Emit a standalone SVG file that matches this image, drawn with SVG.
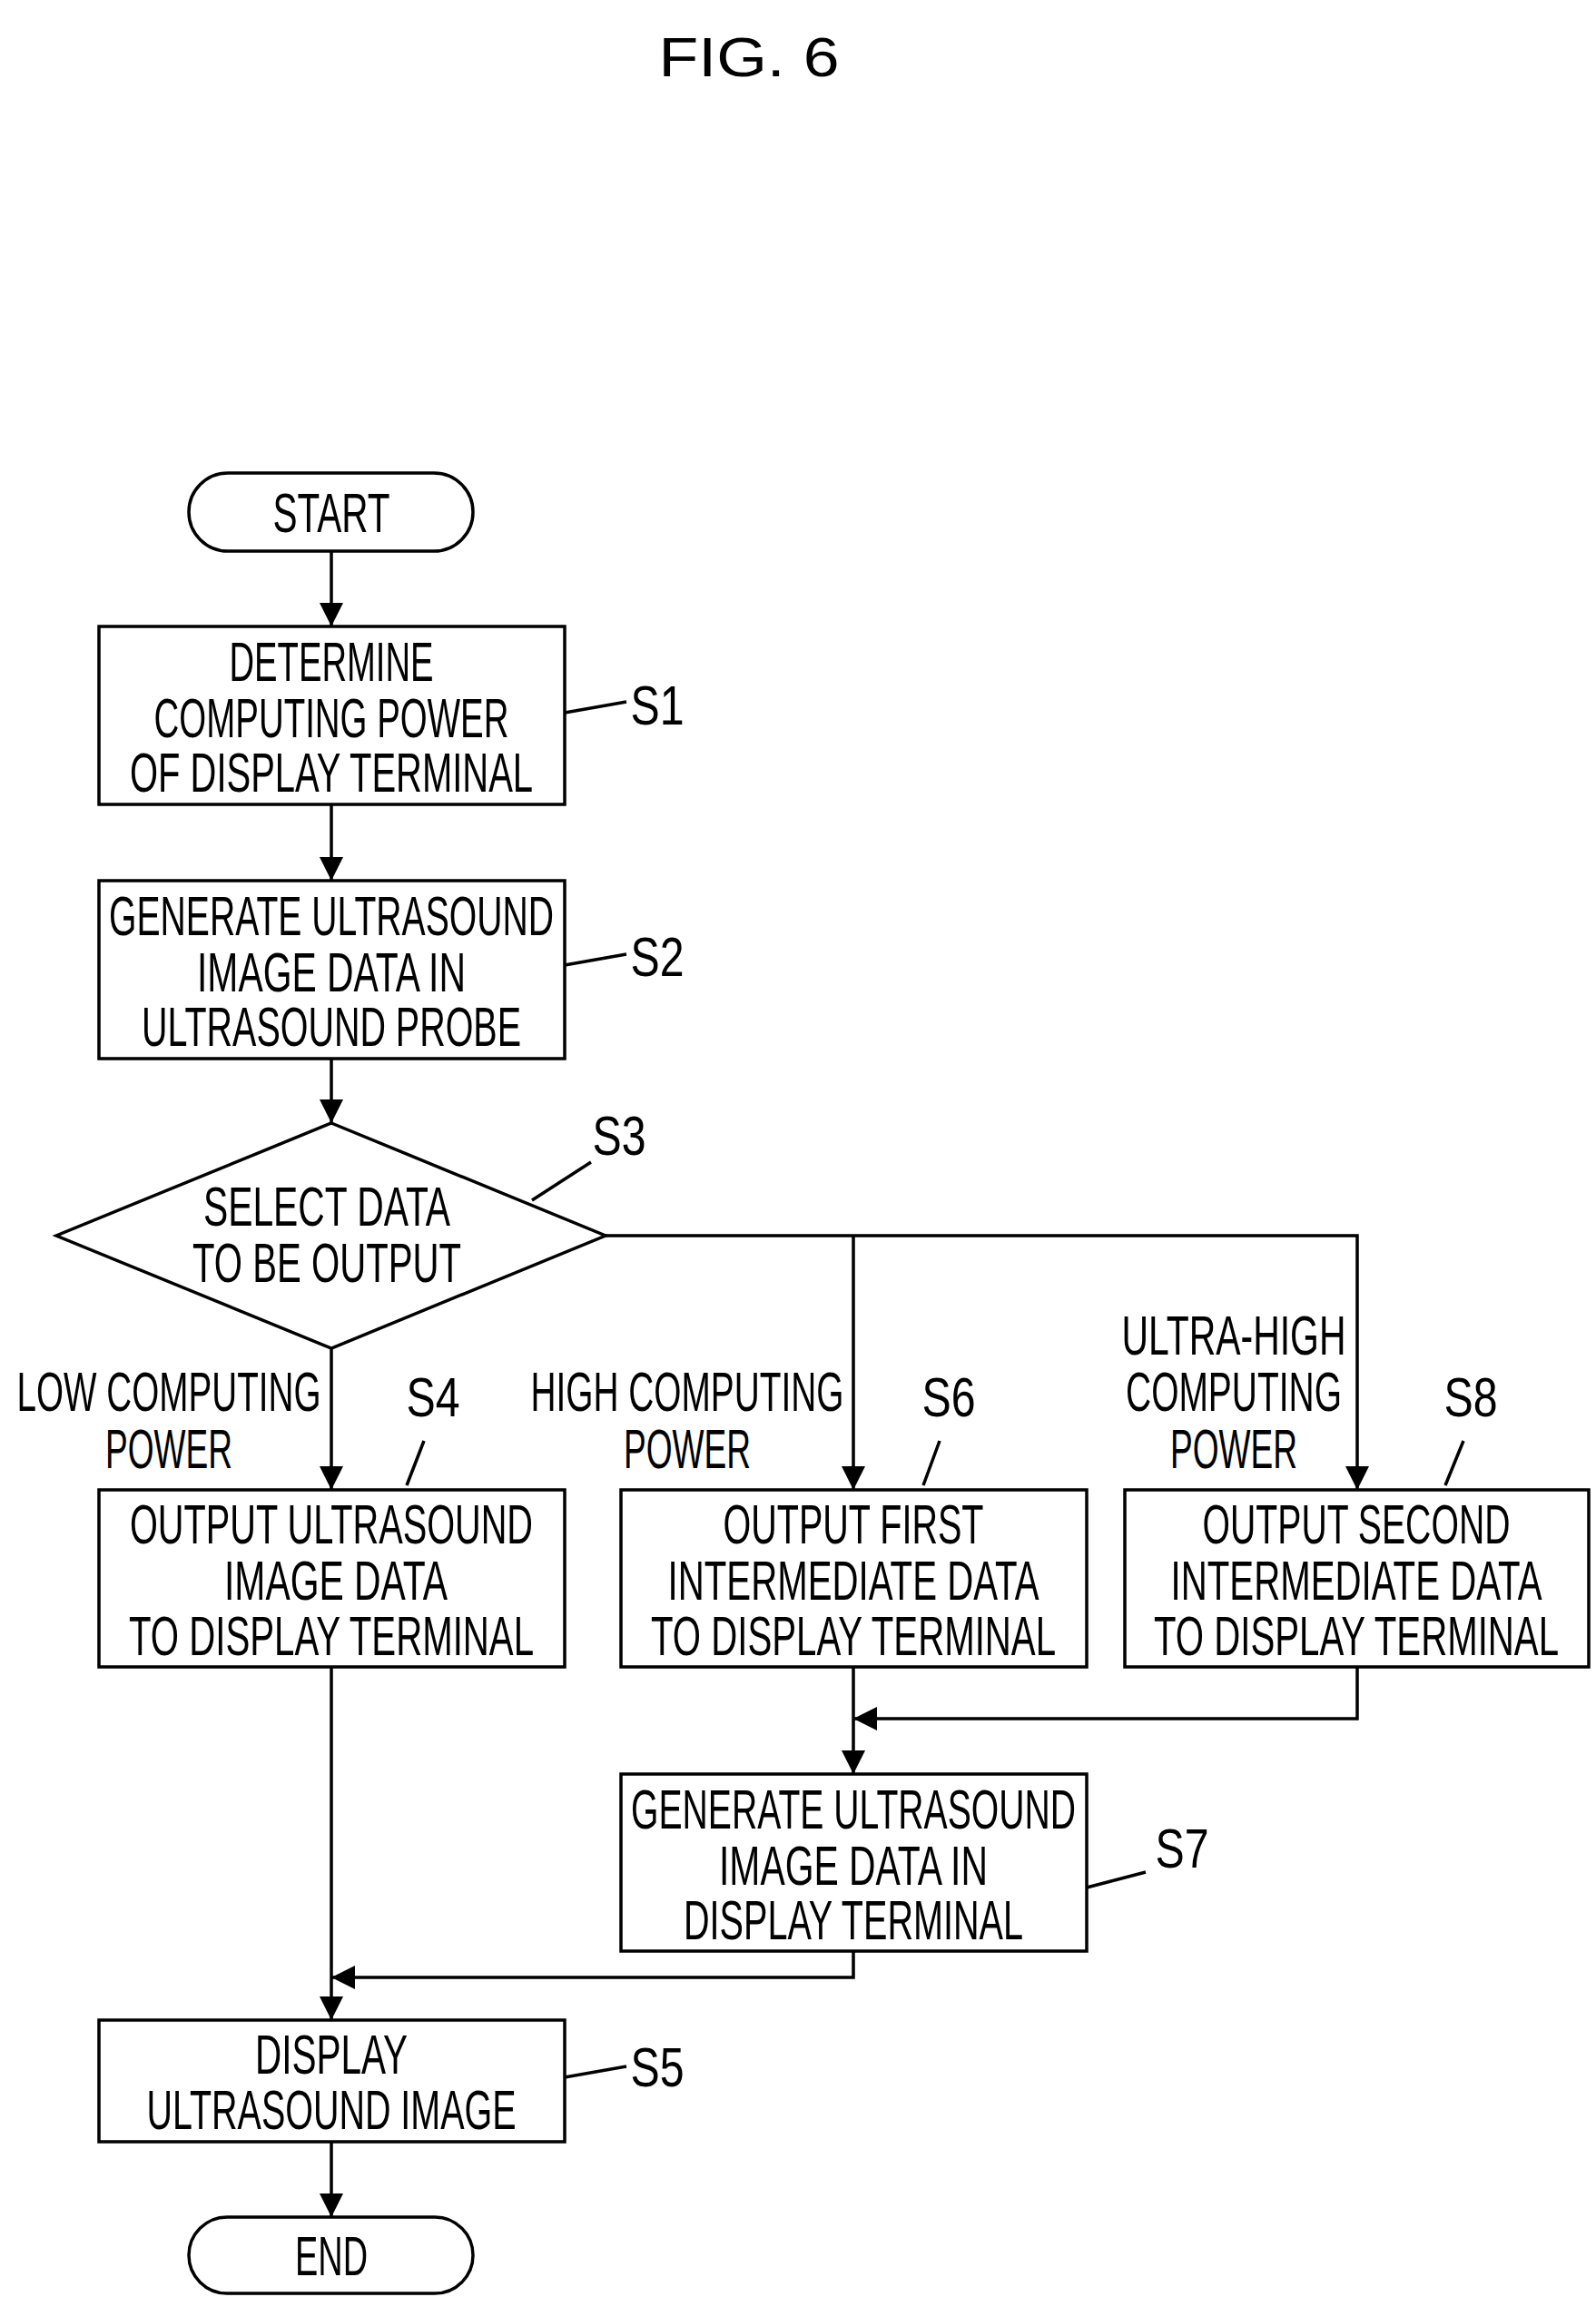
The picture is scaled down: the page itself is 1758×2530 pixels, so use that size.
<svg xmlns="http://www.w3.org/2000/svg" width="1758" height="2530" viewBox="0 0 1758 2530">
<style>
text{font-family:"Liberation Sans",Arial,sans-serif;font-size:62px;fill:#000;text-anchor:middle}
.b{fill:#fff;stroke:#000;stroke-width:3.5}
.c{fill:none;stroke:#000;stroke-width:3.5}
</style>
<defs>
<marker id="ah" viewBox="0 0 10 10" refX="10" refY="5" markerWidth="26" markerHeight="30" orient="auto" markerUnits="userSpaceOnUse"><path d="M0,0L10,5L0,10z"/></marker></defs>
<rect width="1758" height="2530" fill="#fff"/>
<text x="825" y="84" font-size="76" textLength="199" lengthAdjust="spacingAndGlyphs">FIG. 6</text>
<g id="connectors" class="c">
<path d="M365,607V690" marker-end="url(#ah)"/>
<path d="M365,886V970" marker-end="url(#ah)"/>
<path d="M365,1166V1237" marker-end="url(#ah)"/>
<path d="M365,1485V1641" marker-end="url(#ah)"/>
<path d="M667,1361H1495V1641" marker-end="url(#ah)"/>
<path d="M940,1361V1641" marker-end="url(#ah)"/>
<path d="M940,1836V1954" marker-end="url(#ah)"/>
<path d="M1495,1836V1893H940" marker-end="url(#ah)"/>
<path d="M365,1836V2225" marker-end="url(#ah)"/>
<path d="M940,2149V2178H365" marker-end="url(#ah)"/>
<path d="M365,2359V2442" marker-end="url(#ah)"/>
<path d="M622,785L690,773M622,1063L690,1051M586,1322L651,1280M448,1636L467,1587M1017,1636L1035,1587M1592,1636L1612,1587M1197,2079L1262,2062M622,2288L690,2276"/>
</g>
<g id="start"><rect class="b" x="208" y="521" width="313" height="86" rx="43"/><text x="365" y="586" textLength="129" lengthAdjust="spacingAndGlyphs">START</text></g>
<g id="s1"><rect class="b" x="109" y="690" width="513" height="196"/>
<text x="365" y="750" textLength="225" lengthAdjust="spacingAndGlyphs">DETERMINE</text>
<text x="365" y="812" textLength="391" lengthAdjust="spacingAndGlyphs">COMPUTING POWER</text>
<text x="365" y="872" textLength="444" lengthAdjust="spacingAndGlyphs">OF DISPLAY TERMINAL</text>
<text x="724" y="798" textLength="59" lengthAdjust="spacingAndGlyphs">S1</text></g>
<g id="s2"><rect class="b" x="109" y="970" width="513" height="196"/>
<text x="365" y="1030" textLength="490" lengthAdjust="spacingAndGlyphs">GENERATE ULTRASOUND</text>
<text x="365" y="1092" textLength="296" lengthAdjust="spacingAndGlyphs">IMAGE DATA IN</text>
<text x="365" y="1152" textLength="418" lengthAdjust="spacingAndGlyphs">ULTRASOUND PROBE</text>
<text x="724" y="1075" textLength="59" lengthAdjust="spacingAndGlyphs">S2</text></g>
<g id="s3"><path class="b" d="M365,1237L667,1361L365,1485L62,1361z"/>
<text x="360" y="1350" textLength="272" lengthAdjust="spacingAndGlyphs">SELECT DATA</text>
<text x="360" y="1412" textLength="296" lengthAdjust="spacingAndGlyphs">TO BE OUTPUT</text>
<text x="682" y="1272" textLength="59" lengthAdjust="spacingAndGlyphs">S3</text></g>
<g id="labels">
<text x="186" y="1554" textLength="335" lengthAdjust="spacingAndGlyphs">LOW COMPUTING</text>
<text x="186" y="1617" textLength="140" lengthAdjust="spacingAndGlyphs">POWER</text>
<text x="757" y="1554" textLength="345" lengthAdjust="spacingAndGlyphs">HIGH COMPUTING</text>
<text x="757" y="1617" textLength="140" lengthAdjust="spacingAndGlyphs">POWER</text>
<text x="1359" y="1492" textLength="247" lengthAdjust="spacingAndGlyphs">ULTRA-HIGH</text>
<text x="1359" y="1554" textLength="238" lengthAdjust="spacingAndGlyphs">COMPUTING</text>
<text x="1359" y="1617" textLength="140" lengthAdjust="spacingAndGlyphs">POWER</text>
</g>
<g id="s4"><rect class="b" x="109" y="1641" width="513" height="195"/>
<text x="365" y="1700" textLength="444" lengthAdjust="spacingAndGlyphs">OUTPUT ULTRASOUND</text>
<text x="370" y="1762" textLength="246" lengthAdjust="spacingAndGlyphs">IMAGE DATA</text>
<text x="365" y="1823" textLength="446" lengthAdjust="spacingAndGlyphs">TO DISPLAY TERMINAL</text>
<text x="477" y="1560" textLength="59" lengthAdjust="spacingAndGlyphs">S4</text></g>
<g id="s6"><rect class="b" x="684" y="1641" width="513" height="195"/>
<text x="940" y="1700" textLength="287" lengthAdjust="spacingAndGlyphs">OUTPUT FIRST</text>
<text x="940" y="1762" textLength="409" lengthAdjust="spacingAndGlyphs">INTERMEDIATE DATA</text>
<text x="940" y="1823" textLength="446" lengthAdjust="spacingAndGlyphs">TO DISPLAY TERMINAL</text>
<text x="1045" y="1560" textLength="59" lengthAdjust="spacingAndGlyphs">S6</text></g>
<g id="s8"><rect class="b" x="1239" y="1641" width="511" height="195"/>
<text x="1494" y="1700" textLength="339" lengthAdjust="spacingAndGlyphs">OUTPUT SECOND</text>
<text x="1494" y="1762" textLength="409" lengthAdjust="spacingAndGlyphs">INTERMEDIATE DATA</text>
<text x="1494" y="1823" textLength="446" lengthAdjust="spacingAndGlyphs">TO DISPLAY TERMINAL</text>
<text x="1620" y="1560" textLength="59" lengthAdjust="spacingAndGlyphs">S8</text></g>
<g id="s7"><rect class="b" x="684" y="1954" width="513" height="195"/>
<text x="940" y="2014" textLength="490" lengthAdjust="spacingAndGlyphs">GENERATE ULTRASOUND</text>
<text x="940" y="2076" textLength="296" lengthAdjust="spacingAndGlyphs">IMAGE DATA IN</text>
<text x="940" y="2136" textLength="374" lengthAdjust="spacingAndGlyphs">DISPLAY TERMINAL</text>
<text x="1302" y="2057" textLength="59" lengthAdjust="spacingAndGlyphs">S7</text></g>
<g id="s5"><rect class="b" x="109" y="2225" width="513" height="134"/>
<text x="365" y="2284" textLength="168" lengthAdjust="spacingAndGlyphs">DISPLAY</text>
<text x="365" y="2345" textLength="407" lengthAdjust="spacingAndGlyphs">ULTRASOUND IMAGE</text>
<text x="724" y="2298" textLength="59" lengthAdjust="spacingAndGlyphs">S5</text></g>
<g id="end"><rect class="b" x="208" y="2442" width="313" height="84" rx="42"/><text x="365" y="2506" textLength="80" lengthAdjust="spacingAndGlyphs">END</text></g>
</svg>
